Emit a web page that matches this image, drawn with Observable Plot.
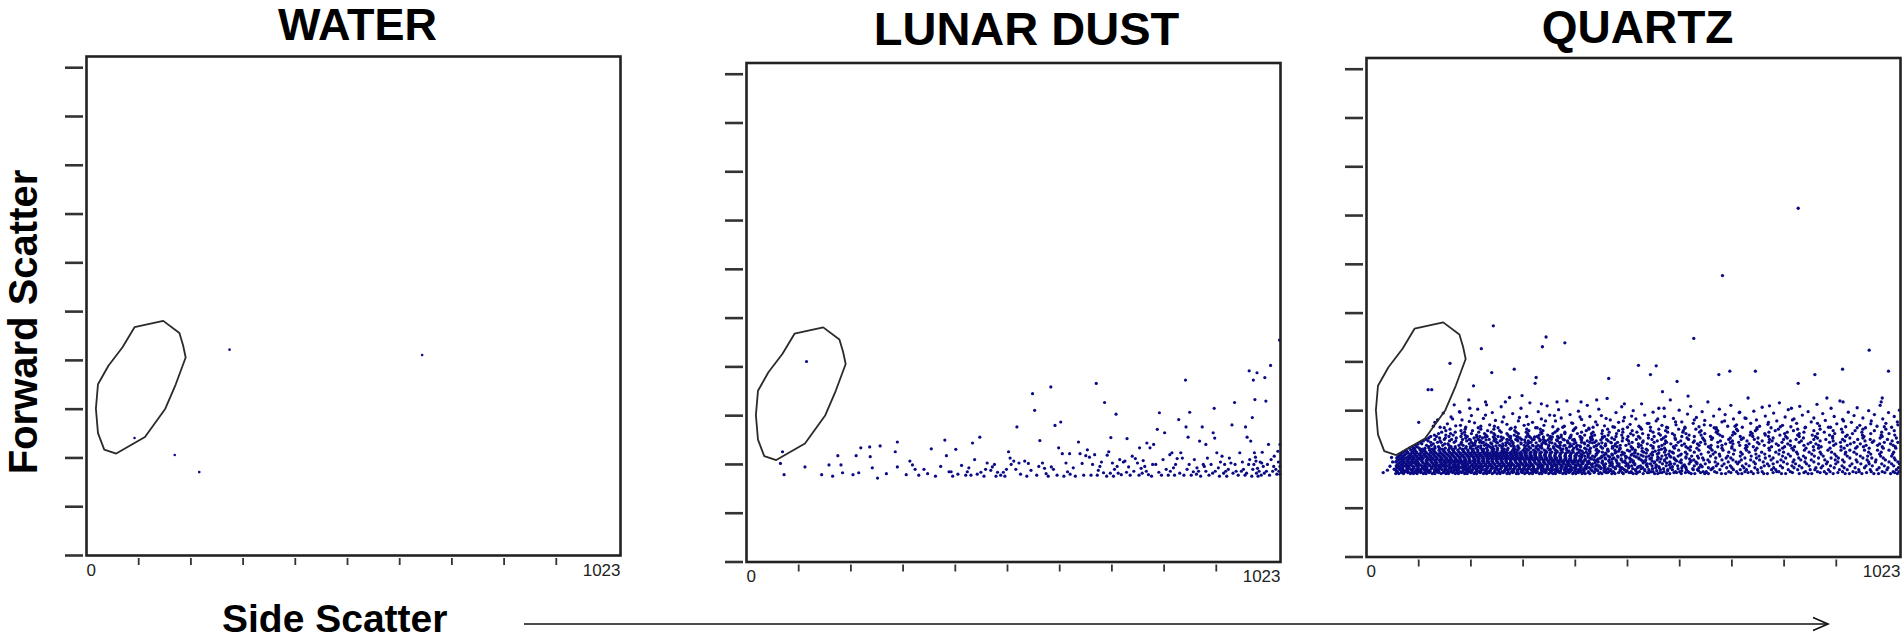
<!DOCTYPE html>
<html><head><meta charset="utf-8">
<script src="https://cdn.jsdelivr.net/npm/d3@7"></script>
<script src="https://cdn.jsdelivr.net/npm/@observablehq/plot@0.6"></script>
<style>
html,body{margin:0;padding:0;background:#fff;}
#root{position:relative;width:1902px;height:641px;overflow:hidden;background:#fff;font-family:"Liberation Sans",Arial,sans-serif;}
.panel{position:absolute;top:0;}
#overlay{position:absolute;left:0;top:0;pointer-events:none;}
</style></head><body><div id="root"></div>
<script>
// ---------- data ----------
const panelTitles = ["WATER", "LUNAR DUST", "QUARTZ"];
const yTicks = [0,100,200,300,400,500,600,700,800,900,1000];
const xTicks = [100,200,300,400,500,600,700,800,900];
const xEndLabels = [0, 1023];
const axisTitles = ["Forward Scatter", "Side Scatter"];

// gate polygon (same region in all three plots)
const gate = [[92,468],[147,481],[178,456],[185,431],[190,406],[171,351],[151,301],[112,243],[57,209],[34,217],[22,251],[18,301],[22,351],[42,389],[69,427]];

const waterPts = [[274,422],[643,411],[92,241],[169,206],[216,171]];

const lunarPts = [[69,226],[65,202],[72,179],[112,195],[115,411],[144,179],[158,199],[165,176],[175,218],[181,199],[184,183],[204,179],[210,218],[215,183],[219,234],[236,236],[237,216],[241,193],[251,172],[256,238],[268,181],[285,226],[289,246],[289,195],[306,179],[313,207],[318,199],[323,190],[340,190],[347,181],[354,232],[380,250],[383,218],[388,185],[392,185],[401,231],[412,198],[423,185],[426,193],[433,244],[437,210],[447,256],[449,184],[461,203],[471,195],[481,184],[492,184],[502,226],[505,213],[512,207],[516,190],[518,277],[522,203],[533,207],[540,202],[548,345],[552,311],[562,249],[567,203],[571,192],[574,181],[584,195],[583,359],[591,280],[598,234],[602,287],[605,222],[612,203],[615,185],[619,222],[626,193],[636,246],[639,222],[643,202],[650,218],[653,230],[657,215],[667,220],[670,366],[674,188],[677,196],[686,327],[691,219],[694,226],[698,255],[701,203],[705,190],[708,303],[712,182],[718,179],[722,205],[725,207],[729,253],[732,195],[739,217],[749,203],[753,234],[756,192],[763,196],[767,244],[770,179],[773,234],[780,241],[784,200],[787,272],[791,306],[801,265],[804,190],[811,220],[815,224],[818,193],[822,200],[828,292],[832,224],[835,213],[841,373],[842,277],[846,256],[849,307],[856,185],[863,193],[868,248],[873,277],[877,196],[880,241],[883,213],[894,265],[896,315],[897,254],[901,224],[904,193],[911,217],[918,186],[925,213],[928,203],[930,281],[935,327],[938,186],[945,224],[952,190],[956,277],[959,256],[963,392],[966,248],[969,296],[971,373],[973,224],[974,333],[976,207],[978,388],[980,176],[987,203],[993,378],[995,330],[1000,241],[1004,403],[1011,217],[1014,190],[1018,227],[1021,455],[1022,241],
[420,178],[455,176],[468,188],[478,176],[495,176],[507,200],[525,180],[537,176],[545,188],[556,178],[560,196],[578,176],[588,190],[595,178],[608,176],[620,180],[630,176],[646,178],[660,178],[663,200],[672,178],[680,205],[684,183],[690,176],[697,182],[703,176],[710,196],[715,210],[728,184],[735,178],[742,186],[745,212],[752,178],[758,182],[760,208],[766,186],[776,176],[778,200],[790,184],[795,178],[798,210],[808,178],[812,186],[820,178],[825,212],[830,182],[838,178],[844,190],[848,200],[852,178],[858,210],[862,180],[866,186],[870,176],[875,200],[880,186],[886,178],[890,200],[893,182],[898,186],[906,176],[908,205],[914,182],[916,200],[920,176],[923,190],[932,182],[936,200],[942,178],[948,186],[950,205],[955,178],[958,182],[962,200],[964,210],[968,176],[970,190],[972,200],[975,215],[977,182],[979,192],[982,186],[984,205],[986,178],[988,225],[990,196],[992,182],[996,186],[998,200],[1002,178],[1005,210],[1008,186],[1010,196],[1016,180],[1019,205],[1020,186],[1022,196],[1022,180],
[330,178],[362,176],[372,196],[395,176],[405,180],[430,178],[442,180],[458,190],[475,200],[487,178],[498,190]];

// quartz: dense band read row by row (forward scatter value, list of side scatter values)
const quartzRows = [
[171,[56,62,71,84,90,97,109,114,126,131,143,152,157,170,176,188,193,206,211,224,230,241,250,256,269,274,287,291,303,312,318,331,336,349,357,362,376,382,395,401,413,419,428,445,451,470,476,492,511,517,530,552,558,575,581,603,622,629,648,655,680,688,712,719,741,761,768,795,803,829,846,853,881,894,917,925,949,972,981,1004,1017]],
[173,[60,67,79,86,94,104,111,120,129,138,147,155,165,173,182,190,200,208,218,226,235,244,254,262,272,280,289,298,307,316,325,334,343,352,361,370,379,388,397,406,415,425,436,448,459,474,490,507,519,541,562,589,618,650,462,483,503,538,566,594,611,640,671,698,731,750,779,816,838,869,903,938,958,993,1012]],
[175,[59,67,74,80,93,101,105,118,122,135,139,148,161,166,179,184,197,202,215,219,233,237,246,259,264,278,282,296,300,309,321,327,340,344,353,367,371,385,390,404,409,425,437,456,464,473,497,507,523,545,549,570,592,600,616,645,651,667,694,709,725,737,758,786,790,812,841,864,877,888,912,932,944,967,988,1009,1020]],
[177,[57,71,76,88,97,102,114,121,131,137,150,156,168,174,185,192,200,211,218,229,236,246,253,264,271,282,289,300,307,318,326,337,344,355,363,372,381,391,399,410,417,432,443,455,468,486,499,516,533,556,577,604,636]],
[179,[55,64,70,78,86,95,103,111,117,130,136,145,153,162,171,175,189,195,203,210,222,227,238,247,253,266,271,280,290,297,306,316,323,335,341,350,360,366,379,387,393,406,415,430,441,459,468,486,494,515,533,541,563,577,586,613,626,634,660,677,703,716,728,749,776,784,808,826,850,859,885,906,921,943,965,978,997,1015]],
[181,[62,69,81,89,98,106,115,124,133,141,151,159,168,177,186,194,204,212,221,230,239,248,257,266,275,283,293,301,311,319,328,337,346,355,365,373,383,391,401,409,421,438,449,463,477,491,510,526,548,569,597,625,662]],
[183,[58,66,77,82,91,99,108,113,125,133,140,150,158,164,174,182,191,198,207,216,221,232,243,249,258,268,275,285,293,302,310,320,329,334,346,354,364,372,380,392,398,411,418,427,449,455,476,489,502,519,529,554,561,582,604,612,637,655,664,690,700,723,744,756,780,797,819,834,861,871,896,915,936,954,982,999,1019]],
[185,[61,70,79,90,99,107,116,126,133,143,151,161,169,178,188,196,205,214,222,231,240,249,258,266,276,284,293,302,312,320,329,338,347,356,365,374,383,392,401,411,422,433,445,457,472,485,503,521,538,560,586,611,643]],
[187,[57,63,73,81,88,96,106,110,121,129,137,146,154,167,172,185,190,200,209,217,226,235,240,252,261,270,277,288,294,305,314,319,332,338,347,358,363,375,384,388,402,408,420,439,446,466,480,497,508,525,547,555,574,596,606,628,641,670,681,697,720,733,762,771,793,815,829,848,874,889,911,926,957,969,992,1010]],
[189,[59,67,78,85,95,103,113,121,131,140,148,158,166,175,184,192,202,210,220,228,238,246,256,264,274,282,292,300,310,318,328,336,346,354,364,372,382,390,400,410,421,431,442,454,469,483,501,514,536,555,580,609,640]],
[191,[60,69,76,85,94,100,112,118,127,134,144,151,160,169,177,186,194,204,212,219,229,236,245,255,263,272,279,290,298,306,316,325,333,342,352,360,368,378,386,396,405,414,425,433,458,471,484,500,514,538,544,567,583,590,618,633,649,673,685,711,727,745,768,779,806,822,843,866,881,899,930,947,963,987,1006,1021]],
[193,[63,72,80,89,99,108,116,126,135,144,153,162,170,180,189,198,207,215,224,233,242,251,260,269,278,287,296,305,314,323,332,341,350,359,369,377,387,395,405,415,427,438,451,466,480,496,512,530,551,575,603,633]],
[195,[56,65,72,83,92,98,107,116,124,132,141,149,157,166,174,183,191,199,207,216,225,234,242,251,260,268,276,286,295,303,312,322,330,339,348,356,365,374,384,393,400,412,423,444,452,470,491,505,511,534,552,562,581,600,620,631,657,668,693,708,714,742,760,787,799,817,840,857,883,903,915,940,962,975,1001,1018]],
[197,[58,70,77,87,97,106,114,124,133,142,151,160,169,178,187,196,204,213,222,231,240,249,258,267,276,285,294,304,313,322,331,340,350,359,368,378,387,396,406,416,426,439,452,464,479,495,511,529,547,571,594,622]],
[199,[61,68,79,88,95,104,115,121,130,139,147,156,164,173,181,190,198,208,215,224,232,241,249,258,267,276,284,293,302,311,319,329,338,346,356,364,373,382,391,401,410,419,436,442,465,478,488,508,526,535,557,571,592,603,627,646,654,681,702,718,736,753,775,794,819,832,852,878,898,912,938,959,976,994,1013]],
[201,[64,72,82,90,99,107,117,125,135,143,153,161,171,179,189,197,207,216,225,234,243,252,261,270,279,288,297,306,315,324,334,343,352,361,371,380,389,399,409,419,431,444,458,471,488,505,522,543,564,590,619]],
[203,[58,66,75,84,91,101,109,118,127,135,144,153,161,170,179,187,196,205,213,222,231,239,248,256,266,274,283,292,300,310,318,327,336,345,354,364,372,382,391,400,411,428,448,457,474,497,504,522,546,559,575,589,612,636,644,669,689,698,725,747,764,779,803,828,841,866,890,904,926,951,968,990,1011]],
[205,[60,69,79,89,96,105,115,123,133,142,150,160,168,178,187,196,205,214,223,232,241,250,259,268,278,287,296,305,314,323,332,342,351,361,371,381,391,401,412,424,437,451,466,482,498,517,536,558,583,612]],
[207,[62,70,81,87,97,106,113,123,131,140,149,158,166,175,183,193,201,210,218,228,236,245,253,263,271,280,289,298,307,316,324,334,343,352,361,370,380,389,399,408,418,433,451,463,481,496,513,530,541,566,581,597,623,634,659,677,692,716,737,752,772,797,812,837,858,875,900,921,946,960,985,1006]],
[209,[66,73,84,93,102,111,120,129,138,147,156,165,174,184,193,202,211,220,230,239,248,257,267,276,285,294,304,313,322,332,341,351,361,371,381,391,402,413,425,440,455,471,488,507,526,548,573,601]],
[211,[64,75,83,92,101,110,118,128,136,145,154,163,172,180,190,198,207,216,225,233,243,251,261,269,279,288,297,306,315,324,333,343,352,362,371,381,391,401,411,424,440,459,470,492,509,520,545,557,579,603,614,641,664,676,703,720,746,763,790,808,826,853,871,897,917,939,966,983,1008]],
[213,[68,78,87,96,105,114,124,133,142,152,161,170,180,189,199,208,217,227,236,246,255,264,274,283,293,303,313,322,332,342,352,362,372,382,393,404,416,428,442,458,476,494,514,536,560,588]],
[215,[70,79,88,96,105,114,123,131,141,150,159,167,177,186,195,203,213,222,231,240,249,259,268,277,287,296,306,315,325,335,345,355,365,375,386,396,407,421,443,452,478,490,514,531,548,571,586,611,628,655,668,694,717,733,757,784,799,824,848,869,891,918,934,962,986,1010]],
[217,[74,92,110,129,148,167,186,205,224,243,263,283,303,323,344,365,388,413,428,445,463,483,504,528,553,581]],
[219,[76,85,93,103,111,121,129,139,148,157,166,175,185,194,203,213,222,232,241,251,260,270,280,290,300,310,320,330,341,351,362,373,384,395,409,427,440,462,476,500,515,538,560,573,598,620,637,662,683,705,728,745,772,791,818,839,857,884,909,926,954,979,1001]],
[221,[89,107,126,145,165,184,204,224,244,264,285,307,329,352,376,404,421,441,462,485,509,536,565]],
[223,[82,92,101,112,120,131,140,151,159,170,179,190,199,210,219,230,240,251,260,271,282,292,303,314,325,336,348,359,371,383,397,418,429,452,471,486,510,528,549,571,590,616,633,659,681,700,726,748,771,797,815,842,866,888,915,937,963,990,1014]],
[226,[88,97,119,131,138,162,170,191,199,214,236,242,259,283,290,311,325,333,358,367,389,402,410,436,449,471,480,507,521,549,560,588,612,621,655,673,700,729,741,776,801,820,856,871,909,940,952,988,1013]],
[228,[203,219,232,248,261,277,290,306,319,335,349,364,378,393,409,424,440,457,475]],
[229,[94,115,124,146,158,177,185,208,226,233,255,267,281,302,318,329,349,371,380,404,425,441,458,486,497,526,545,566,593,604,637,660,681,715,727,762,789,812,838,866,895,921,957,979,1009]],
[232,[99,106,128,150,156,181,197,204,229,240,261,274,296,309,336,344,361,390,397,418,445,458,477,503,521,538,571,583,609,634,649,688,702,733,752,785,807,846,861,899,927,946,983,1004]],
[234,[208,222,238,251,267,281,296,311,325,341,355,370,386,401,417,433,451,469]],
[235,[104,123,136,143,168,182,201,217,224,249,270,279,304,315,339,351,372,386,412,428,437,468,481,509,529,551,575,597,626,640,673,697,713,749,771,796,829,851,887,908,934,969,992,1018]],
[238,[109,118,141,159,171,192,209,219,244,256,278,290,310,332,343,366,385,399,423,440,463,490,502,530,557,573,602,628,648,678,701,729,758,777,812,833,869,894,916,955,972,1007]],
[240,[199,216,229,245,259,274,289,303,318,333,348,364,379,395,412,430,449]],
[241,[114,131,149,163,184,197,214,235,248,269,286,297,321,339,354,377,398,411,433,460,475,499,517,547,565,592,617,646,661,694,718,743,772,799,823,857,880,912,941,965,998]],
[244,[119,140,151,172,190,206,222,245,262,276,294,315,330,351,368,389,413,429,452,470,491,524,540,569,591,614,644,663,697,722,750,779,806,837,864,893,926,951,984,1015]],
[246,[211,227,243,258,274,290,306,322,339,356,373,391,410,430,452]],
[247,[123,134,158,181,193,217,231,252,276,288,312,327,352,366,391,409,432,456,478,501,521,551,573,604,628,659,682,716,740,770,803,829,860,893,918,953,988]],
[250,[130,152,166,189,211,229,246,271,283,309,331,347,373,392,418,437,463,489,511,540,563,590,618,641,677,701,735,764,792,826,854,887,921,950,986,1012]],
[253,[138,161,183,201,226,244,269,291,309,336,357,380,404,431,451,479,506,529,560,586,612,648,673,706,739,763,801,829,864,897,931,966,1001]],
[256,[144,170,188,215,239,258,287,306,334,361,380,412,434,465,491,518,549,577,606,638,670,703,736,771,806,838,877,912,949,987]],
[259,[152,181,203,232,255,284,311,338,365,396,421,452,483,509,544,573,607,641,673,711,745,783,818,857,894,936,973,1011]],
[262,[160,189,219,244,275,307,333,367,398,426,462,491,527,560,598,631,670,709,748,789,826,869,910,951,995]]
];
const quartzSparse = [[32,173],[40,178],[45,186],[50,195],[48,204],[53,180],[100,276],
[128,268],[136,281],[141,266],[147,295],[155,273],[162,287],[168,312],[171,269],[178,298],[183,281],[190,266],[196,322],[201,290],[207,275],[213,303],[219,268],[224,284],[230,312],[236,271],[241,296],[247,280],[252,265],[258,308],[263,287],[269,272],[274,327],[280,294],[285,266],[291,279],[296,305],[302,270],[307,288],[313,316],[318,276],[324,265],[329,298],[335,283],[340,270],[346,310],[351,291],[357,267],[362,279],[368,302],[373,285],[379,268],[384,320],[390,292],[395,274],[401,265],[406,299],[412,282],[417,270],[423,311],[428,288],[434,266],[439,277],[445,303],[450,290],[456,269],[461,325],[467,281],[472,267],[478,296],[483,276],[489,308],[494,286],[500,266],[505,272],[511,300],[516,283],[522,268],[527,314],[533,291],[538,274],[544,266],[549,297],[555,279],[560,305],[566,270],[571,288],[577,265],[582,322],[588,284],[593,271],[599,301],[604,277],[610,266],[615,293],[621,309],[626,274],[632,286],[637,267],[643,298],[648,280],[654,318],[659,270],[665,289],[670,265],[676,303],[681,277],[687,292],[692,268],[698,311],[703,283],[709,271],[714,296],[720,266],[725,285],[731,326],[736,274],[742,299],[747,281],[753,268],[758,307],[764,289],[769,272],[775,265],[780,295],[786,279],[791,316],[797,270],[802,287],[808,302],[813,267],[819,283],[824,274],[830,309],[835,291],[841,266],[846,298],[852,277],[857,285],[863,313],[868,269],[874,294],[879,280],[885,266],[890,305],[896,288],[901,273],[907,320],[912,282],[918,267],[923,297],[929,276],[934,290],[940,306],[945,270],[951,285],[956,265],[962,300],[967,279],[973,292],[978,268],[984,311],[989,283],[995,274],[1000,296],[1006,266],[1011,288],[1017,277],[1021,301],
[131,276],[149,265],[165,283],[180,270],[197,278],[214,265],[228,291],[245,268],[260,277],[277,264],[293,286],[310,272],[327,265],[343,279],[360,290],[376,266],[393,275],[409,287],[426,264],[442,271],[459,284],[475,266],[492,279],[508,289],[525,265],[541,274],[558,283],[575,266],[592,277],[610,264],[628,281],[647,271],[666,265],[686,279],[706,268],[727,284],[748,265],[770,276],[793,267],[816,281],[840,265],[864,274],[889,266],[914,279],[940,265],[966,273],[992,267],[1018,271],
[986,318],[988,326],[913,318],[882,326],[814,305],[772,310],[715,297],[616,330],[567,339],[570,305],[494,314],[441,322],[411,318],[365,318],[335,314],[298,331],[266,318],[228,318],[198,305],[179,297]];
const quartzOutliers = [[283,385],[240,378],[205,351],[325,368],[323,356],[464,366],[521,393],[555,392],[544,374],[595,360],[675,374],[696,381],[745,381],[827,356],[859,374],[912,385],[1000,381],[963,424],[627,448],[380,439],[344,451],[337,431],[243,474],[220,427],[682,577],[827,715],[160,397],[118,343],[125,343]];

const quartzPts = quartzRows.flatMap(([y, xs]) => xs.map(x => [x, y])).concat(quartzSparse, quartzOutliers);

// ---------- layout ----------
const layout = [
  {pts: waterPts, left: 0,    top: 56,   bottom: 555,   titleDx: 4,  titleBase: 39, titleSize: 45, r: 1.3},
  {pts: lunarPts, left: 660,  top: 62.5, bottom: 561.5, titleDx: 13, titleBase: 44, titleSize: 47, r: 1.6},
  {pts: quartzPts,left: 1280, top: 57.5, bottom: 556.5, titleDx: 4,  titleBase: 42, titleSize: 46, r: 1.65}
];
const FONT = "Liberation Sans, Arial, sans-serif";
const NAVY = "#0a0a84";
const root = document.getElementById("root");

layout.forEach((p, i) => {
  const H = 641;
  const chart = Plot.plot({
    width: 628, height: H,
    marginLeft: 86, marginRight: 8, marginTop: p.top, marginBottom: H - p.bottom,
    style: {fontFamily: FONT, background: "transparent", overflow: "visible"},
    x: {domain: [0, 1023]},
    y: {domain: [0, 1023]},
    marks: [
      Plot.dot(p.pts, {x: d => d[0], y: d => d[1], r: p.r, fill: NAVY, stroke: null}),
      Plot.line(gate, {x: d => d[0], y: d => d[1], curve: "linear-closed", stroke: "#2a2a2a", strokeWidth: 1.8}),
      Plot.frame({stroke: "#222", strokeWidth: 2.6}),
      Plot.axisY(yTicks, {anchor: "left", tickSize: 18, dx: -3, tickFormat: () => "", label: null, stroke: "#333", strokeWidth: 2.6}),
      Plot.axisX(xTicks, {anchor: "bottom", tickSize: 7, dy: 3, tickFormat: () => "", label: null, stroke: "#333", strokeWidth: 1.8}),
      Plot.text([xEndLabels[0]], {x: d => d, text: d => String(d), frameAnchor: "bottom", dy: 20, lineAnchor: "bottom", textAnchor: "start", fontSize: 17, fill: "#222", fontFamily: FONT}),
      Plot.text([xEndLabels[1]], {x: d => d, text: d => String(d), frameAnchor: "bottom", dy: 20, lineAnchor: "bottom", textAnchor: "end", fontSize: 17, fill: "#222", fontFamily: FONT}),
      Plot.text([panelTitles[i]], {frameAnchor: "top", dx: p.titleDx, dy: p.titleBase - p.top, lineAnchor: "bottom", fontSize: p.titleSize, fontWeight: "bold", fill: "#000", fontFamily: FONT})
    ]
  });
  chart.classList.add("panel");
  chart.style.left = p.left + "px";
  root.appendChild(chart);
});

// axis titles and the side-scatter arrow
const ns = "http://www.w3.org/2000/svg";
const ov = document.createElementNS(ns, "svg");
ov.setAttribute("id", "overlay");
ov.setAttribute("width", 1902);
ov.setAttribute("height", 641);
ov.innerHTML = `
  <text transform="translate(37,322) rotate(-90)" text-anchor="middle" font-family="${FONT}" font-size="40" font-weight="bold" fill="#000">${axisTitles[0]}</text>
  <text x="222" y="632" font-family="${FONT}" font-size="39" font-weight="bold" fill="#000">${axisTitles[1]}</text>
  <line x1="524" y1="624" x2="1828" y2="624" stroke="#111" stroke-width="1.6"/>
  <polyline points="1813,617.5 1828,624 1813,630.5" fill="none" stroke="#111" stroke-width="1.6"/>`;
root.appendChild(ov);
</script></body></html>
